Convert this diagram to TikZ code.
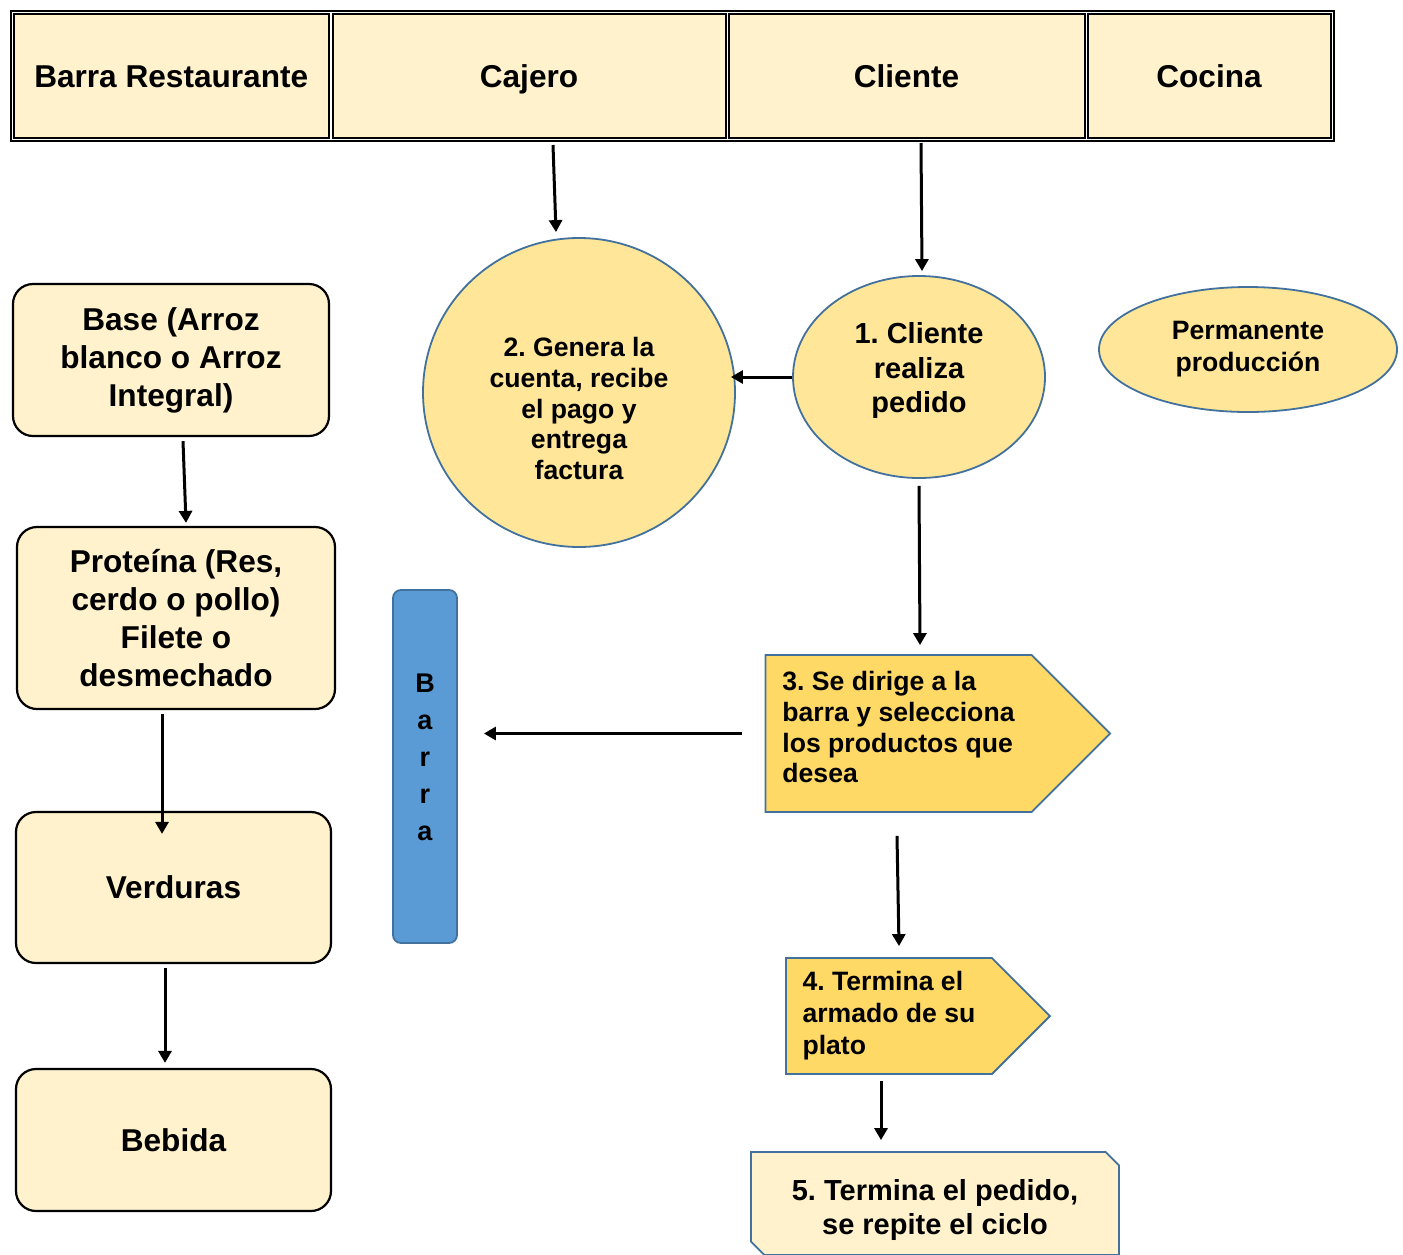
\documentclass[tikz,border=0pt]{standalone}
\usepackage{fontspec}
\setmainfont{Liberation Sans}
\frenchspacing
\usetikzlibrary{positioning,fit,calc,arrows.meta,shapes.geometric,shapes.symbols,shapes.misc}
\definecolor{crema}{HTML}{FFF2CC}
\definecolor{oro}{HTML}{FFE699}
\definecolor{oroalto}{HTML}{FFD966}
\definecolor{azulborde}{HTML}{41719C}
\definecolor{azulbarra}{HTML}{5B9BD5}
\tikzset{letragrande/.style={font=\bfseries\fontsize{15.8}{19}\selectfont}}
\tikzset{letramedia/.style={font=\bfseries\fontsize{14.5}{17.2}\selectfont}}
\tikzset{letrachica/.style={font=\bfseries\fontsize{13.3}{15.4}\selectfont}}
\tikzset{celda/.style={draw, line width=1pt, fill=crema, outer sep=0pt, inner sep=0pt, minimum height=62.25pt, text height=11.4pt, text depth=0pt, letragrande}}
\tikzset{caja/.style={draw, line width=1.1pt, rounded corners=10pt, fill=crema, align=center, letragrande}}
\tikzset{globo/.style={ellipse, draw=azulborde, line width=0.9pt, fill=oro, inner sep=0pt, align=center}}
\tikzset{paso/.style={signal, signal to=east, signal pointer angle=90, draw=azulborde, line width=0.9pt, fill=oroalto, align=left, letrachica}}
\tikzset{arr/.style={draw, line width=1.5pt, -{Triangle[length=6pt,width=6.5pt]}}}

\begin{document}
\begin{tikzpicture}[x=0.5pt, y=-0.5pt]
\useasboundingbox (0,0) rectangle (1403,1254);
% encabezado
\node[celda, minimum width=157.75pt] (barrarest) at (171.25,75.75) {Barra Restaurante};
\node[celda, minimum width=196.5pt] (cajero) at (529,75.75) {Cajero};
\node[celda, minimum width=178pt] (cliente) at (906.5,75.75) {Cliente};
\node[celda, minimum width=121.5pt] (cocina) at (1209,75.75) {Cocina};
\node[draw, line width=1pt, inner sep=1.5pt, fit=(barrarest)(cocina)] (tabla) {};

% productos de la barra
\node[caja, minimum width=158pt, minimum height=76pt] (base) at (171,360) {Base (Arroz\\blanco o Arroz\\Integral)};
\node[caja, minimum width=159pt, minimum height=91pt] (proteina) at (176,618) {Proteína (Res,\\cerdo o pollo)\\Filete o\\desmechado};
\node[caja, minimum width=157.5pt, minimum height=75.5pt] (verduras) at (173.5,887.5) {Verduras};
\node[caja, minimum width=157.5pt, minimum height=71pt] (bebida) at (173.5,1140) {Bebida};

% proceso
\node[globo, minimum width=156pt, minimum height=154.5pt,
  label={[letrachica, align=center, yshift=-8pt]center:{2. Genera la\\cuenta, recibe\\el pago y\\entrega\\factura}}] (cuenta) at (579,392.5) {};
\node[globo, minimum width=126pt, minimum height=101pt,
  label={[letramedia, align=center, yshift=3.25pt]center:{1. Cliente\\realiza\\pedido}}] (pedido) at (919,377) {};
\node[globo, minimum width=149pt, minimum height=62.5pt, font=\bfseries\fontsize{13.3}{16}\selectfont] (produccion) at (1248,349.5) {Permanente\\producción};
\node[draw=azulborde, line width=0.9pt, fill=azulbarra, rounded corners=4pt, minimum width=32pt, minimum height=176.5pt,
  label={[font=\bfseries\fontsize{13.5}{18.5}\selectfont, align=center, yshift=4.75pt]center:{B\\a\\r\\r\\a}}] (barra) at (425,766.5) {};
\node[paso, inner xsep=8.5pt, minimum height=78.5pt] (seleccion) at (898.5,733.5) {3. Se dirige a la\\barra y selecciona\\los productos que\\desea\rule[-6.5pt]{0pt}{6.5pt}};
\node[paso, inner xsep=8.25pt, minimum height=58pt, font=\bfseries\fontsize{13.3}{16}\selectfont] (armado) at (889,1016) {4. Termina el\\armado de su\\plato};
\node[chamfered rectangle, chamfered rectangle corners={north east,south west}, chamfered rectangle xsep=9pt, chamfered rectangle ysep=9pt,
  draw=azulborde, line width=0.9pt, fill=crema, minimum width=184pt, minimum height=51.5pt,
  label={[letramedia, align=center, yshift=-3.25pt]center:{5. Termina el pedido,\\se repite el ciclo}}] (fin) at (935,1203.5) {};

% flechas
\draw[arr] ($(cajero.south)+(24,7)$) -- ($(cuenta.north)+(-23,-5)$);
\draw[arr] ($(cliente.south)+(14.5,5)$) -- ($(pedido.north)+(3,-4)$);
\draw[arr] (pedido.west) -- ($(pedido.west -| cuenta.east)+(-5,0)$);
\draw[arr] ($(pedido.south)+(0,7)$) -- ($(pedido.south |- seleccion.north)+(1,-9)$);
\draw[arr] ($(seleccion.west)+(-23,0)$) -- ($(seleccion.west -| barra.east)+(26,0)$);
\draw[arr] ($(seleccion.south)+(-1.5,23)$) -- ($(armado.north)+(10,-11)$);
\draw[arr] ($(armado.south)+(-8,6)$) -- ($(fin.north)+(-54,-11)$);
\draw[arr] ($(base.south)+(12,4)$) -- ($(proteina.north)+(10,-3)$);
\draw[arr] ($(proteina.south)+(-14,4)$) -- ($(verduras.north)+(-11.5,23)$);
\draw[arr] ($(verduras.south)+(-8.5,4)$) -- ($(bebida.north)+(-8.5,-5)$);
\end{tikzpicture}
\end{document}
